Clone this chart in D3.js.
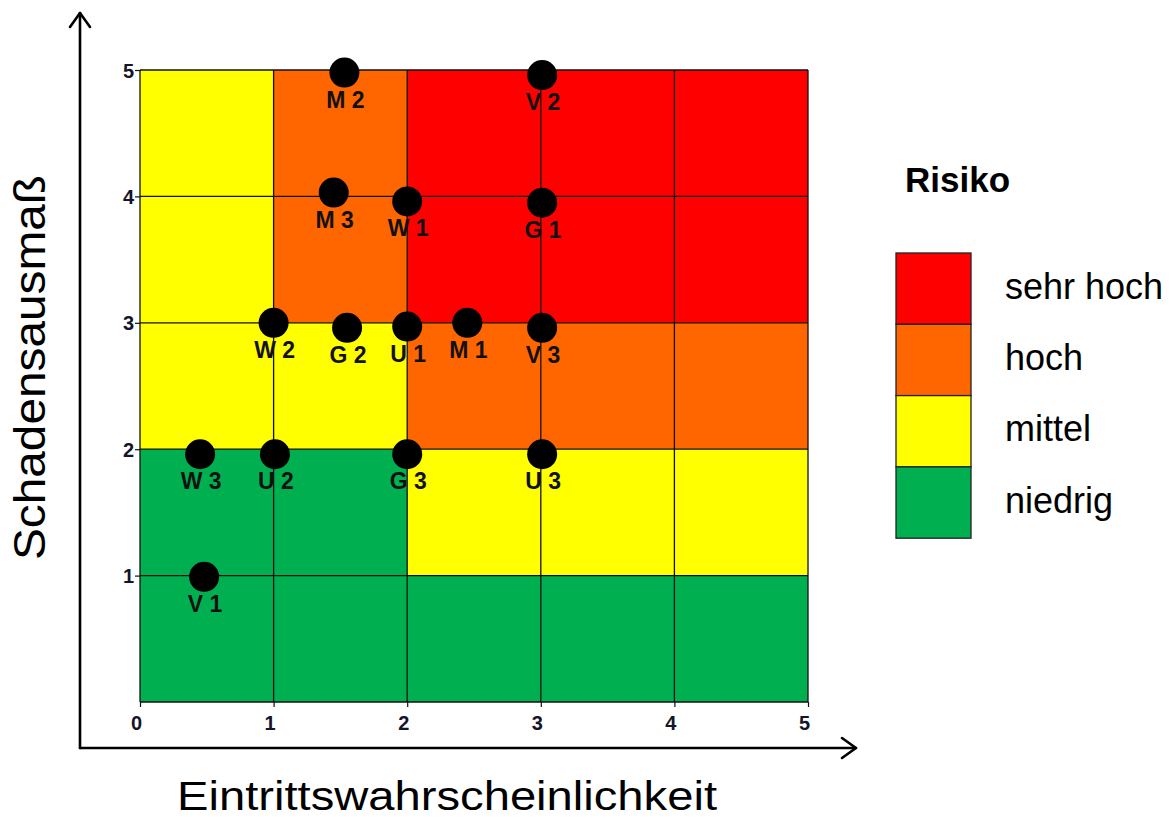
<!DOCTYPE html>
<html>
<head>
<meta charset="utf-8">
<script src="https://cdn.jsdelivr.net/npm/d3@7"></script>
<style>
  html, body { margin: 0; padding: 0; background: #fff; }
  svg { display: block; font-family: Arial, "Liberation Sans", sans-serif; }
</style>
</head>
<body>
<svg id="chart" width="1175" height="819"></svg>
<script>
// ---------- data ----------
const xTicks = [0, 1, 2, 3, 4, 5];
const yTicks = [1, 2, 3, 4, 5];
const xTitle = "Eintrittswahrscheinlichkeit";
const yTitle = "Schadensausmaß";
const legendTitle = "Risiko";
const riskLevels = ["sehr hoch", "hoch", "mittel", "niedrig"];
// risk level per cell, rows from top band (4–5) down to bottom band (0–1), columns x 0–1 … 4–5
const cellRisk = [
  ["mittel", "hoch", "sehr hoch", "sehr hoch", "sehr hoch"],
  ["mittel", "hoch", "sehr hoch", "sehr hoch", "sehr hoch"],
  ["mittel", "mittel", "hoch", "hoch", "hoch"],
  ["niedrig", "niedrig", "mittel", "mittel", "mittel"],
  ["niedrig", "niedrig", "niedrig", "niedrig", "niedrig"]
];
const pointLabels = ["M 2", "V 2", "M 3", "W 1", "G 1", "W 2", "G 2", "U 1", "M 1", "V 3", "W 3", "U 2", "G 3", "U 3", "V 1"];
const pointX      = [1.53, 3.01, 1.45, 2.00, 3.01, 1.00, 1.55, 2.00, 2.45, 3.01, 0.45, 1.01, 2.00, 3.01, 0.48];
const pointY      = [4.98, 4.96, 4.03, 3.96, 3.95, 3.00, 2.96, 2.97, 3.00, 2.96, 1.96, 1.96, 1.96, 1.96, 0.99];

// ---------- styles ----------
const riskColor = d3.scaleOrdinal()
  .domain(riskLevels)
  .range(["#FF0000", "#FF6600", "#FFFF00", "#00B050"]);

const svg = d3.select("#chart");
const plot = { left: 140, right: 808, top: 70, bottom: 702 };

const x = d3.scaleLinear().domain([0, 5]).range([plot.left, plot.right]);
const y = d3.scaleLinear().domain([0, 5]).range([plot.bottom, plot.top]);

// ---------- cells ----------
const cells = [];
cellRisk.forEach((row, ri) => {
  row.forEach((risk, ci) => {
    cells.push({ x0: ci, x1: ci + 1, y0: 4 - ri, y1: 5 - ri, risk });
  });
});
svg.append("g").selectAll("rect")
  .data(cells)
  .join("rect")
  .attr("x", d => x(d.x0))
  .attr("y", d => y(d.y1))
  .attr("width", d => x(d.x1) - x(d.x0))
  .attr("height", d => y(d.y0) - y(d.y1))
  .attr("fill", d => riskColor(d.risk))
  .attr("stroke", "none");

// grid lines
const grid = svg.append("g").attr("stroke", "#111").attr("stroke-width", 1.3);
grid.selectAll("line.v")
  .data(xTicks)
  .join("line")
  .attr("class", "v")
  .attr("x1", d => x(d)).attr("x2", d => x(d))
  .attr("y1", y(0)).attr("y2", y(5));
grid.selectAll("line.h")
  .data([0, ...yTicks])
  .join("line")
  .attr("class", "h")
  .attr("y1", d => y(d)).attr("y2", d => y(d))
  .attr("x1", x(0)).attr("x2", x(5));

// ---------- axes ----------
const xAxis = svg.append("g")
  .attr("transform", `translate(0,${plot.bottom})`)
  .call(d3.axisBottom(x).tickValues(xTicks).tickSize(5).tickFormat(d3.format("d")));
xAxis.select(".domain").remove();
xAxis.selectAll("line").attr("stroke", "#111").attr("stroke-width", 1.2);
xAxis.selectAll("text").remove();
xAxis.selectAll("g.tick").append("text")
  .attr("x", -4).attr("y", 28)
  .attr("text-anchor", "middle")
  .attr("font-size", "20px").attr("font-weight", "bold").attr("fill", "#14142a")
  .attr("font-family", "Arial, 'Liberation Sans', sans-serif")
  .text(d => d);

const yAxis = svg.append("g")
  .attr("transform", `translate(${plot.left},0)`)
  .call(d3.axisLeft(y).tickValues(yTicks).tickSize(5).tickFormat(d3.format("d")));
yAxis.select(".domain").remove();
yAxis.selectAll("line").attr("stroke", "#111").attr("stroke-width", 1.2);
yAxis.selectAll("text").remove();
yAxis.selectAll("g.tick").append("text")
  .attr("x", -6).attr("y", 7)
  .attr("text-anchor", "end")
  .attr("font-size", "20px").attr("font-weight", "bold").attr("fill", "#14142a")
  .attr("font-family", "Arial, 'Liberation Sans', sans-serif")
  .text(d => d);

// arrows
const arrows = svg.append("g").attr("stroke", "#000").attr("stroke-width", 2.6).attr("fill", "none")
  .attr("stroke-linecap", "round").attr("stroke-linejoin", "round");
arrows.append("line").attr("x1", 80).attr("y1", 748).attr("x2", 80).attr("y2", 13);
arrows.append("polyline").attr("points", "70,27 80,13 90,27");
arrows.append("line").attr("x1", 80).attr("y1", 748).attr("x2", 856).attr("y2", 748);
arrows.append("polyline").attr("points", "842,738 856,748 842,758");

// axis titles
svg.append("text")
  .attr("x", 177).attr("y", 810)
  .style("font-size", "41px").style("fill", "#000")
  .attr("textLength", 540).attr("lengthAdjust", "spacingAndGlyphs")
  .text(xTitle);
svg.append("text")
  .attr("transform", "translate(45,560) rotate(-90)")
  .style("font-size", "44px").style("fill", "#000")
  .attr("textLength", 385).attr("lengthAdjust", "spacingAndGlyphs")
  .text(yTitle);

// ---------- points ----------
const pts = pointLabels.map((label, i) => ({ label, px: pointX[i], py: pointY[i] }));
const pg = svg.append("g");
pg.selectAll("circle")
  .data(pts)
  .join("circle")
  .attr("cx", d => x(d.px))
  .attr("cy", d => y(d.py))
  .attr("r", 15)
  .attr("fill", "#000");
pg.selectAll("text")
  .data(pts)
  .join("text")
  .attr("x", d => x(d.px) + 1)
  .attr("y", d => y(d.py) + 35)
  .attr("text-anchor", "middle")
  .style("font-size", "23px")
  .style("font-weight", "bold")
  .style("fill", "#111")
  .text(d => d.label);

// ---------- legend ----------
const lg = svg.append("g");
lg.append("text")
  .attr("x", 905).attr("y", 192)
  .style("font-size", "35px").style("font-weight", "bold").style("fill", "#000")
  .text(legendTitle);
const boxTop = 253, boxH = 71.3, boxX = 896, boxW = 75;
lg.selectAll("rect")
  .data(riskLevels)
  .join("rect")
  .attr("x", boxX)
  .attr("y", (d, i) => boxTop + i * boxH)
  .attr("width", boxW)
  .attr("height", boxH)
  .attr("fill", d => riskColor(d))
  .attr("stroke", "#222")
  .attr("stroke-width", 1.3);
lg.selectAll("text.lab")
  .data(riskLevels)
  .join("text")
  .attr("class", "lab")
  .attr("x", 1005)
  .attr("y", (d, i) => boxTop + i * boxH + boxH / 2 + 10)
  .style("font-size", "36px")
  .style("fill", "#000")
  .text(d => d);
</script>
</body>
</html>
